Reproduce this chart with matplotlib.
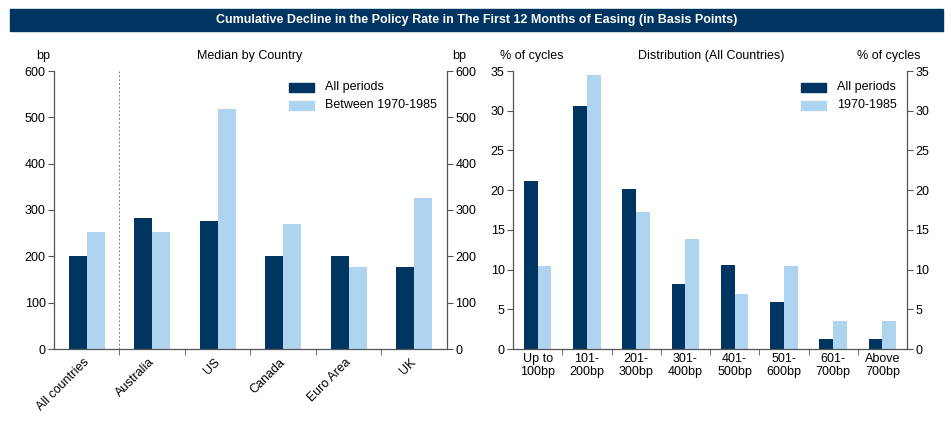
import numpy as np
import matplotlib
matplotlib.use("Agg")
import matplotlib.pyplot as plt
from matplotlib.patches import Rectangle
from matplotlib.transforms import ScaledTranslation

plt.rcParams["font.family"] = ["Liberation Sans", "DejaVu Sans"]
plt.rcParams["font.size"] = 9

NAVY = "#003461"
LIGHT = "#AED4F0"
SPINE = "#555555"

# ---------------- Data ---------------- #

countries = ["All countries", "Australia", "US", "Canada", "Euro Area", "UK"]
median_all = [200, 282, 276, 200, 200, 176]
median_7085 = [252, 252, 517, 269, 176, 325]

buckets = ["Up to\n100bp", "101-\n200bp", "201-\n300bp", "301-\n400bp",
           "401-\n500bp", "501-\n600bp", "601-\n700bp", "Above\n700bp"]
dist_all = [21.2, 30.6, 20.1, 8.2, 10.6, 5.9, 1.2, 1.2]
dist_7085 = [10.4, 34.5, 17.3, 13.8, 6.9, 10.4, 3.5, 3.5]


def style_axis(ax, n, ymax, step):
    ax.set_xlim(-0.5, n - 0.5)
    ax.set_ylim(0, ymax)
    ax.set_yticks(np.arange(0, ymax + step / 2, step))
    ax.spines["top"].set_visible(False)
    for side in ["left", "right", "bottom"]:
        ax.spines[side].set_color(SPINE)
        ax.spines[side].set_linewidth(0.9)
    ax.tick_params(axis="y", which="both", direction="out", length=4,
                   color=SPINE, left=True, right=True,
                   labelleft=True, labelright=True, pad=2)
    ax.set_xticks(np.arange(n))
    ax.set_xticks(np.arange(0.5, n - 1, 1.0), minor=True)
    ax.tick_params(axis="x", which="major", length=0, pad=3)
    ax.tick_params(axis="x", which="minor", length=4, color=SPINE,
                   direction="out")


def add_legend(fig, x_patch, x_text, labels):
    ys = [87, 105]
    for (lab, col), y in zip(labels, ys):
        fig.patches.append(Rectangle((x_patch / W, 1 - (y + 4.5) / H),
                                     25 / W, 9 / H, color=col,
                                     transform=fig.transFigure))
        fig.text(x_text / W, 1 - y / H, lab, va="center", ha="left",
                 fontsize=9)


W, H = 953, 421
fig = plt.figure(figsize=(W / 100, H / 100), dpi=100)

# ---------------- Title banner ---------------- #

fig.patches.append(Rectangle((10 / W, 1 - 31 / H), 933 / W, 22 / H,
                             color=NAVY, transform=fig.transFigure))
fig.text(477 / W, 1 - 20.5 / H,
         "Cumulative Decline in the Policy Rate in The First 12 Months of "
         "Easing (in Basis Points)",
         color="white", fontweight="bold", ha="center", va="center",
         fontsize=9)

# ---------------- Left panel ---------------- #

ax1 = fig.add_axes([54 / W, 1 - 349 / H, 393 / W, 278 / H])
x = np.arange(len(countries))
w = 0.275
ax1.bar(x - w / 2, median_all, w, color=NAVY)
ax1.bar(x + w / 2, median_7085, w, color=LIGHT)
style_axis(ax1, len(countries), 600, 100)
ax1.set_xticklabels(countries, rotation=45, ha="right",
                    rotation_mode="anchor")
shift = ScaledTranslation(-4 / 100, -3 / 100, fig.dpi_scale_trans)
for lab in ax1.get_xticklabels():
    lab.set_transform(lab.get_transform() + shift)
ax1.axvline(0.5, color="#808080", linestyle=(0, (2, 2)), linewidth=0.7)

fig.text(43 / W, 1 - 56 / H, "bp", ha="center", va="center")
fig.text(250 / W, 1 - 56 / H, "Median by Country", ha="center", va="center")
fig.text(459 / W, 1 - 56 / H, "bp", ha="center", va="center")
add_legend(fig, 289, 325, [("All periods", NAVY),
                           ("Between 1970-1985", LIGHT)])

# ---------------- Right panel ---------------- #

ax2 = fig.add_axes([513 / W, 1 - 349 / H, 394 / W, 278 / H])
x2 = np.arange(len(buckets))
w2 = 0.28
ax2.bar(x2 - w2 / 2, dist_all, w2, color=NAVY)
ax2.bar(x2 + w2 / 2, dist_7085, w2, color=LIGHT)
style_axis(ax2, len(buckets), 35, 5)
ax2.set_xticklabels(buckets, linespacing=1.1)

fig.text(532 / W, 1 - 56 / H, "% of cycles", ha="center", va="center")
fig.text(711 / W, 1 - 56 / H, "Distribution (All Countries)",
         ha="center", va="center")
fig.text(889 / W, 1 - 56 / H, "% of cycles", ha="center", va="center")
add_legend(fig, 801, 837, [("All periods", NAVY), ("1970-1985", LIGHT)])

fig.savefig("out.png", dpi=100)
